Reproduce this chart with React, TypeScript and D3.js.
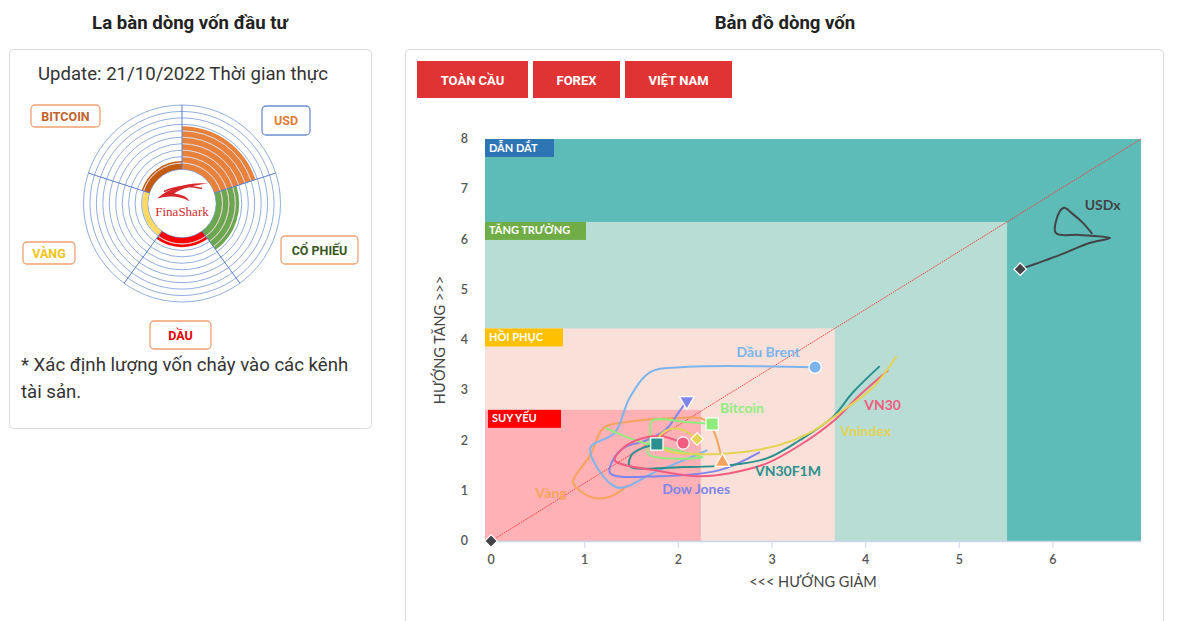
import React from "react";
import * as d3 from "d3";

// ---------- Compass (left) data ----------
const compassCategories = ["USD", "CỔ PHIẾU", "DẦU", "VÀNG", "BITCOIN"];
const compassValues = [6.7, 3.6, 1.5, 0.9, 1.3];
const compassColors = ["#e8823a", "#6aa84f", "#ff0000", "#ffd966", "#c55a11"];
const compassTextColors = ["#e07b39", "#38561d", "#e60000", "#f2c318", "#c0622a"];
const compassRings = [0, 1, 2, 3, 4, 5, 6, 7, 8, 9, 10];

// ---------- Map (right) data ----------
const xTicks = [0, 1, 2, 3, 4, 5, 6];
const yTicks = [0, 1, 2, 3, 4, 5, 6, 7, 8];
const zoneNames = ["DẪN DẮT", "TĂNG TRƯỞNG", "HỒI PHỤC", "SUY YẾU"];
const zoneX = [6.94, 5.51, 3.67, 2.24];
const zoneY = [8, 6.35, 4.23, 2.61];
const buttons = ["TOÀN CẦU", "FOREX", "VIỆT NAM"];

const usdx: [number, number][] = [[6.42, 6.11], [6.32, 6.33], [6.21, 6.51], [6.12, 6.63], [6.07, 6.55], [6.03, 6.13], [6.29, 6.09], [6.61, 6.03], [6.39, 5.93], [6.07, 5.69], [5.65, 5.41]];
const dauBrent: [number, number][] = [[2.31, 1.81], [1.75, 1.37], [1.34, 1.07], [1.06, 1.85], [1.32, 2.15], [1.48, 2.85], [1.7, 3.36], [2.02, 3.46], [3.46, 3.46]];
const vang: [number, number][] = [[1.46, 1.11], [1.27, 0.88], [1.09, 0.86], [0.98, 0.96], [0.875, 1.17], [1.06, 1.71], [1.2, 2.25], [1.45, 2.37], [2.02, 2.45], [2.26, 2.43], [2.37, 2.21], [2.47, 1.57]];
const dowJones: [number, number][] = [[2.87, 1.77], [2.44, 1.41], [1.8, 1.29], [1.27, 1.35], [1.32, 1.67], [1.43, 1.87], [1.64, 1.99], [1.86, 2.21], [2.0, 2.55], [2.09, 2.79]];
const bitcoin: [number, number][] = [[1.22, 2.25], [1.56, 1.99], [1.86, 1.85], [2.26, 1.67], [1.68, 1.73], [1.7, 2.05], [1.72, 2.39], [2.07, 2.37], [2.36, 2.33]];
const vn30f1m: [number, number][] = [[4.15, 3.48], [3.86, 2.95], [3.65, 2.47], [3.3, 2.01], [2.95, 1.65], [2.55, 1.51], [2.02, 1.47], [1.48, 1.49], [1.5, 1.71], [1.59, 1.83], [1.77, 1.93]];
const vn30: [number, number][] = [[4.24, 3.4], [3.94, 2.91], [3.67, 2.41], [3.3, 1.91], [2.95, 1.55], [2.55, 1.35], [2.23, 1.29], [1.8, 1.39], [1.32, 1.61], [1.41, 1.85], [1.56, 2.01], [1.8, 2.09], [2.05, 1.95]];
const vnindex: [number, number][] = [[4.33, 3.68], [4.08, 3.06], [3.72, 2.55], [3.4, 2.15], [3.08, 1.91], [2.58, 1.75], [2.23, 1.73], [1.86, 1.81], [1.78, 2.01], [1.86, 2.19], [2.02, 2.23], [2.2, 2.03]];

const seriesNames = ["Vàng", "Dầu Brent", "Dow Jones", "Bitcoin", "VN30F1M", "VN30", "Vnindex", "USDx"];
const seriesData = [vang, dauBrent, dowJones, bitcoin, vn30f1m, vn30, vnindex, usdx];
const seriesColors = ["#f7a35c", "#7cb5ec", "#8085e9", "#90ed7d", "#2b908f", "#f15c80", "#e4d354", "#434348"];
const seriesSymbols = ["triangle", "circle", "triangle-down", "square", "square", "circle", "diamond", "diamond"];
const labelPos: [number, number][] = [[0.64, 0.96], [2.96, 3.76], [2.19, 1.03], [2.68, 2.65], [3.17, 1.39], [4.18, 2.71], [4.0, 2.19], [6.53, 6.69]];
const origin: [number, number] = [0, 0];

const FONT = "Roboto, 'Open Sans', sans-serif";
const CFONT = "Lato, 'Open Sans', sans-serif";

function symbolPath(kind: string): string {
  const s = d3.symbol();
  if (kind === "circle") return s.type(d3.symbolCircle).size(120)() as string;
  if (kind === "square") return s.type(d3.symbolSquare).size(150)() as string;
  if (kind === "diamond") return s.type(d3.symbolSquare).size(78)() as string;
  return s.type(d3.symbolTriangle).size(95)() as string;
}
function symbolRotate(kind: string): string {
  if (kind === "triangle-down") return " rotate(180)";
  if (kind === "diamond") return " rotate(45)";
  return "";
}

function Compass() {
  const cx = 182, cy = 203.5, r0 = 34, rMax = 98.5;
  const rs = d3.scaleLinear().domain([0, 10]).range([r0, rMax]);
  const step = (Math.PI * 2) / compassCategories.length;
  const arc = d3.arc<any>();
  const labelBoxes = [
    { x: 262, y: 106, w: 48, h: 29, stroke: "#6f8fd0" },
    { x: 281, y: 236, w: 77, h: 28, stroke: "#f0a070" },
    { x: 150, y: 321, w: 61, h: 28, stroke: "#f0a070" },
    { x: 23, y: 242, w: 52, h: 22, stroke: "#f0a070" },
    { x: 31, y: 105, w: 69, h: 22, stroke: "#f0a070" },
  ];
  return (
    <g>
      {compassValues.map((v, i) => (
        <path key={"s" + i} transform={`translate(${cx},${cy})`}
          d={arc({ innerRadius: r0, outerRadius: rs(v), startAngle: i * step, endAngle: (i + 1) * step }) as string}
          fill={compassColors[i]} />
      ))}
      {compassRings.map((k) => (
        <circle key={"r" + k} cx={cx} cy={cy} r={rs(k)} fill="none" stroke="#6f93d6" strokeWidth={0.9} opacity={0.85} />
      ))}
      {compassValues.map((v, i) =>
        compassRings.filter((k) => k > 0 && k < v).map((k) => (
          <path key={"w" + i + "-" + k} transform={`translate(${cx},${cy})`}
            d={arc({ innerRadius: rs(k), outerRadius: rs(k), startAngle: i * step, endAngle: (i + 1) * step }) as string}
            fill="none" stroke="#f6d9c4" strokeWidth={1} opacity={0.7} />
        ))
      )}
      {compassCategories.map((c, i) => {
        const a = i * step;
        return (
          <line key={"l" + i} x1={cx + Math.sin(a) * r0} y1={cy - Math.cos(a) * r0}
            x2={cx + Math.sin(a) * rMax} y2={cy - Math.cos(a) * rMax} stroke="#5b7fcf" strokeWidth={1} />
        );
      })}
      <circle cx={cx} cy={cy} r={r0 - 0.5} fill="#fff" />
      {/* logo */}
      <path d={`M ${cx - 25} ${cy - 5} Q ${cx - 5} ${cy - 22} ${cx + 26} ${cy - 20} Q ${cx + 2} ${cy - 17} ${cx - 8} ${cy - 10} Q ${cx + 4} ${cy - 9} ${cx + 8} ${cy - 2} Q ${cx - 6} ${cy - 10} ${cx - 25} ${cy - 5} Z`} fill="#d9262b" />
      <path d={`M ${cx - 18} ${cy - 12} Q ${cx} ${cy - 20} ${cx + 20} ${cy - 15}`} fill="none" stroke="#d9262b" strokeWidth={1.5} />
      <text x={cx} y={cy + 12} textAnchor="middle" fontFamily="'Liberation Serif', 'DejaVu Serif', serif" fontSize={13} fill="#d42b2b">FinaShark</text>
      {compassCategories.map((c, i) => {
        const b = labelBoxes[i];
        return (
          <g key={"b" + i}>
            <rect x={b.x} y={b.y} width={b.w} height={b.h} rx={4} fill="#fff" stroke={b.stroke} strokeWidth={1.3} />
            <text x={b.x + b.w / 2} y={b.y + b.h / 2 + 4.5} textAnchor="middle" fontFamily={FONT} fontWeight={700} fontSize={12.5} fill={compassTextColors[i]}>{c}</text>
          </g>
        );
      })}
    </g>
  );
}

function RotationMap() {
  const left = 485, right = 1141, top = 139, bottom = 541;
  const x = d3.scaleLinear().domain([-0.065, 6.94]).range([left, right]);
  const y = d3.scaleLinear().domain([0, 8]).range([bottom, top]);
  const line = d3.line<[number, number]>().x((d) => x(d[0])).y((d) => y(d[1])).curve(d3.curveCatmullRom.alpha(0.5));
  const zoneFill = ["#5ebcb8", "#b8ddd5", "#f9e1da", "#ffb1b6"];
  const badgeFill = ["#2e75b6", "#70ad47", "#ffc000", "#ff0000"];
  const badgeW = [69, 101, 78, 73];
  return (
    <g>
      {zoneX.map((zx, i) => (
        <rect key={"z" + i} x={left} y={y(zoneY[i])} width={x(zx) - left} height={bottom - y(zoneY[i])} fill={zoneFill[i]} />
      ))}
      {zoneNames.map((n, i) => (
        <g key={"zb" + i}>
          <rect x={left + (i === 3 ? 3 : 0)} y={y(zoneY[i])} width={badgeW[i]} height={18} fill={badgeFill[i]} />
          <text x={left + (i === 3 ? 3 : 0) + 4} y={y(zoneY[i]) + 12.5} fontFamily={CFONT} fontWeight={700} fontSize={11} fill="#fff">{n}</text>
        </g>
      ))}
      <line x1={x(0)} y1={y(0)} x2={right} y2={top} stroke="#ff3b3b" strokeWidth={1} strokeDasharray="1.5,1" />
      {/* axes */}
      <line x1={left} x2={right} y1={bottom + 0.5} y2={bottom + 0.5} stroke="#ccd6eb" strokeWidth={1.5} />
      {xTicks.map((t) => (
        <g key={"xt" + t}>
          <line x1={x(t)} x2={x(t)} y1={bottom} y2={bottom + 7} stroke="#ccd6eb" />
          <text x={x(t)} y={bottom + 23} textAnchor="middle" fontFamily={CFONT} fontWeight={600} fontSize={12.5} fill="#555">{t}</text>
        </g>
      ))}
      {yTicks.map((t) => (
        <text key={"yt" + t} x={468} y={y(t) + 4} textAnchor="end" fontFamily={CFONT} fontWeight={600} fontSize={12.5} fill="#555">{t}</text>
      ))}
      <text x={(left + right) / 2} y={587} textAnchor="middle" fontFamily={CFONT} fontSize={14.5} fill="#444">{"<<< HƯỚNG GIẢM"}</text>
      <text transform={`translate(445,${(top + bottom) / 2}) rotate(-90)`} textAnchor="middle" fontFamily={CFONT} fontSize={14.5} fill="#444">{"HƯỚNG TĂNG >>>"}</text>
      {/* series */}
      {seriesData.map((d, i) => (
        <path key={"p" + i} d={line(d) as string} fill="none" stroke={seriesColors[i]} strokeWidth={2} />
      ))}
      {seriesData.map((d, i) => {
        const last = d[d.length - 1];
        const kind = seriesSymbols[i];
        return (
          <path key={"m" + i} d={symbolPath(kind)}
            transform={`translate(${x(last[0])},${y(last[1])})${symbolRotate(kind)}`}
            fill={seriesColors[i]} stroke="#fff" strokeWidth={1.2} />
        );
      })}
      <path d={symbolPath("diamond")} transform={`translate(${x(origin[0])},${y(origin[1])}) rotate(45)`} fill="#434348" stroke="#fff" strokeWidth={1.2} />
      {seriesNames.map((n, i) => (
        <text key={"lb" + i} x={x(labelPos[i][0])} y={y(labelPos[i][1]) + 5} textAnchor="middle" fontFamily={CFONT} fontWeight={700} fontSize={14} fill={seriesColors[i]}>{n}</text>
      ))}
    </g>
  );
}

export default function App() {
  return (
    <svg width={1189} height={621} style={{ position: "absolute", left: 0, top: 0, background: "#fff" }}>
      <text x={190} y={29} textAnchor="middle" fontFamily={FONT} fontWeight={700} fontSize={18.6} fill="#222">La bàn dòng vốn đầu tư</text>
      <text x={785} y={29} textAnchor="middle" fontFamily={FONT} fontWeight={700} fontSize={18.6} fill="#222">Bản đồ dòng vốn</text>
      <rect x={9.5} y={49.5} width={362} height={379} rx={4} fill="#fff" stroke="#dcdcdc" />
      <rect x={405.5} y={49.5} width={758} height={600} rx={4} fill="#fff" stroke="#dcdcdc" />
      <text x={38} y={80} fontFamily={FONT} fontSize={18.6} fill="#333">Update: 21/10/2022 Thời gian thực</text>
      <Compass />
      <text x={21} y={371} fontFamily={FONT} fontSize={18.6} fill="#333">* Xác định lượng vốn chảy vào các kênh</text>
      <text x={21} y={398} fontFamily={FONT} fontSize={18.6} fill="#333">tài sản.</text>
      {buttons.map((b, i) => {
        const bx = [417, 533, 625][i];
        const bw = [111, 87, 107][i];
        return (
          <g key={"btn" + i}>
            <rect x={bx} y={61} width={bw} height={37} fill="#e03333" />
            <text x={bx + bw / 2} y={84.5} textAnchor="middle" fontFamily={FONT} fontWeight={700} fontSize={13} fill="#fff">{b}</text>
          </g>
        );
      })}
      <RotationMap />
    </svg>
  );
}
